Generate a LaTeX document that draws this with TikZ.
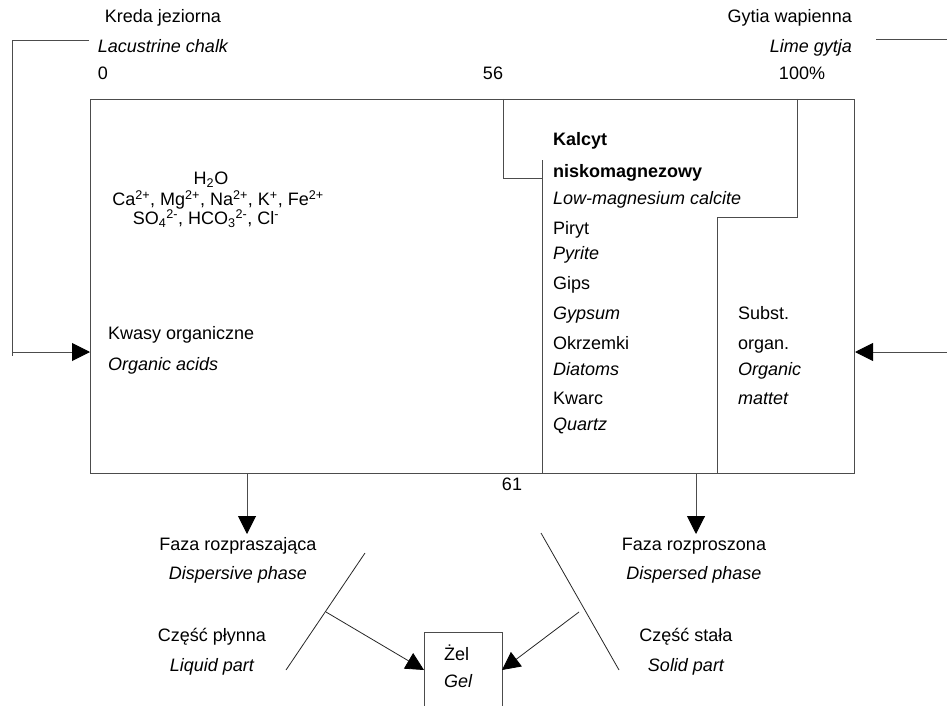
\documentclass[tikz,border=0pt]{standalone}
\usepackage{fontspec}
\setmainfont{Liberation Sans}
\usetikzlibrary{arrows.meta}
\begin{document}
\begin{tikzpicture}[x=1pt,y=-1pt,
  every node/.style={inner sep=0pt,font=\fontsize{18}{21}\selectfont},
  ln/.style={draw=black!70,line width=1pt},
  thinln/.style={draw=black!85,line width=0.8pt},
  tip/.style={-{Triangle[length=18pt,width=18pt,color=black]}},
  lab/.style={anchor=mid},
  labw/.style={anchor=mid west},
  labe/.style={anchor=mid east},
  it/.style={font=\fontsize{18}{21}\selectfont\itshape},
  bf/.style={font=\fontsize{18}{21}\selectfont\bfseries}]
\useasboundingbox (0,0) rectangle (947,706);

% main box
\node[ln,draw,minimum width=764pt,minimum height=374pt,anchor=north west] (box) at (90,99) {};
\draw[ln] (503,99) -- (503,178) -- (542,178);
\draw[ln] (542,160) -- (542,473);
\draw[ln] (797,99) -- (797,217) -- (717,217) -- (717,473);

% feedback lines
\coordinate (ltop) at (89,41);
\coordinate (lcorner) at (12,41);
\coordinate (lin) at (12,352);
\draw[ln] (ltop) -- (lcorner) -- (12,356);
\draw[ln,tip] (lin) -- (lin -| box.west);
\coordinate (rtop) at (876,40);
\coordinate (rend) at (947,40);
\draw[ln] (rtop) -- (rend);
\coordinate (rin) at (947,352);
\draw[ln,tip] (rin) -- (rin -| box.east);

% labels top
\node[lab] (kreda) at (163,20) {Kreda jeziorna};
\node[lab,it] (lac) at (163,50) {Lacustrine chalk};
\node[lab] (p0) at (103,77) {0};
\node[lab] (p56) at (493,77) {56};
\node[lab] (p100) at (802,77) {100\%};
\node[labe] (gytia) at (852,20) {Gytia wapienna};
\node[labe,it] (lime) at (852,50) {Lime gytja};

% chemistry
\node[lab] (h2o) at (211,182) {H\textsubscript{2}O};
\node[lab] (cations) at (218,203) {Ca\textsuperscript{2+}, Mg\textsuperscript{2+}, Na\textsuperscript{2+}, K\textsuperscript{+}, Fe\textsuperscript{2+}};
\node[lab] (anions) at (206,222) {SO\textsubscript{4}\textsuperscript{2-}, HCO\textsubscript{3}\textsuperscript{2-}, Cl\textsuperscript{-}};

\node[labw] (kwasy) at (108,337) {Kwasy organiczne};
\node[labw,it] (oacids) at (108,368) {Organic acids};

% middle column
\node[labw,bf] (kalcyt) at (553,143) {Kalcyt};
\node[labw,bf] (nisko) at (553,175) {niskomagnezowy};
\node[labw,it] (lowmg) at (553,202) {Low-magnesium calcite};
\node[labw] (piryt) at (553,232) {Piryt};
\node[labw,it] (pyrite) at (553,257) {Pyrite};
\node[labw] (gips) at (553,287) {Gips};
\node[labw,it] (gypsum) at (553,317) {Gypsum};
\node[labw] (okrz) at (553,347) {Okrzemki};
\node[labw,it] (diatoms) at (553,373) {Diatoms};
\node[labw] (kwarc) at (553,402) {Kwarc};
\node[labw,it] (quartz) at (553,428) {Quartz};

% right column
\node[labw] (subst) at (738,317) {Subst.};
\node[labw] (organ) at (738,347) {organ.};
\node[labw,it] (organic) at (738,373) {Organic};
\node[labw,it] (mattet) at (738,402) {mattet};

\node[lab] (p61) at (512,488) {61};

% down arrows
\coordinate (dl) at (247,473);
\coordinate (dr) at (696,473);
\draw[ln,tip] (dl) -- (247,534);
\draw[ln,tip] (dr) -- (696,534);

% bottom labels
\node[lab] (fazal) at (238,548) {Faza rozpraszająca};
\node[lab,it] (disp) at (238,577) {Dispersive phase};
\node[lab] (plyn) at (212,639) {Część płynna};
\node[lab,it] (liq) at (212,669) {Liquid part};
\node[lab] (fazar) at (694,548) {Faza rozproszona};
\node[lab,it] (dispd) at (694,577) {Dispersed phase};
\node[lab] (stala) at (686,639) {Część stała};
\node[lab,it] (solid) at (686,669) {Solid part};

% gel box
\draw[ln] (424,706) -- (424,632) -- (502,632) -- (502,706);
\coordinate (gelL) at (424,670);
\coordinate (gelR) at (502,670);
\node[labw] (zel) at (444,658) {Żel};
\node[labw,it] (gel) at (444,685) {Gel};

% diagonals
\coordinate (la) at (286,670);
\coordinate (lb) at (365,553);
\coordinate (lbr) at (326,612);
\draw[thinln] (la) -- (lb);
\draw[thinln,tip] (lbr) -- (gelL);
\coordinate (ra) at (541,533);
\coordinate (rb) at (619,670);
\coordinate (rbr) at (579,612);
\draw[thinln] (ra) -- (rb);
\draw[thinln,tip] (rbr) -- (gelR);
\end{tikzpicture}
\end{document}
